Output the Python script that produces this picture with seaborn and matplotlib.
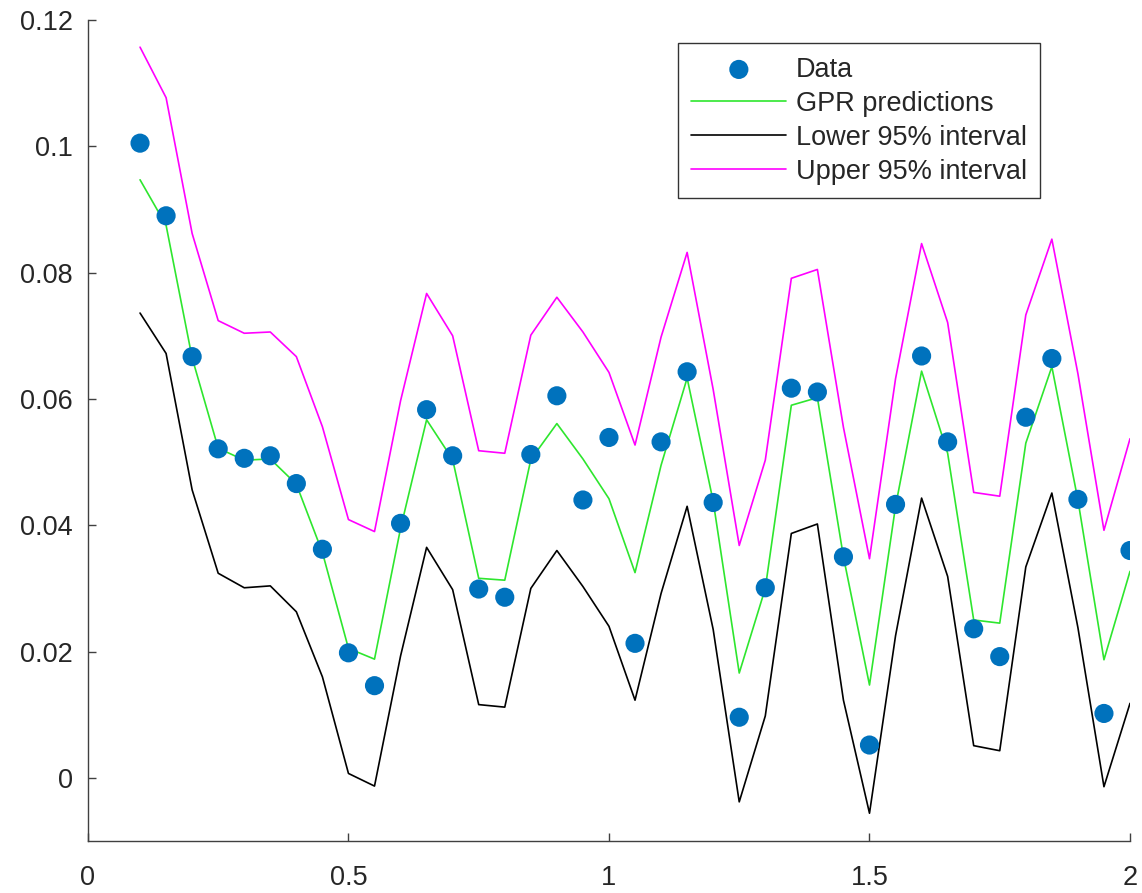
import numpy as np
import pandas as pd
import seaborn as sns
import matplotlib.pyplot as plt

x = [0.10, 0.15, 0.20, 0.25, 0.30, 0.35, 0.40, 0.45, 0.50, 0.55,
     0.60, 0.65, 0.70, 0.75, 0.80, 0.85, 0.90, 0.95, 1.00, 1.05,
     1.10, 1.15, 1.20, 1.25, 1.30, 1.35, 1.40, 1.45, 1.50, 1.55,
     1.60, 1.65, 1.70, 1.75, 1.80, 1.85, 1.90, 1.95, 2.00]

data_y = [0.1005, 0.0890, 0.0667, 0.0521, 0.0506, 0.0510, 0.0466, 0.0362, 0.0198, 0.0146,
          0.0403, 0.0583, 0.0510, 0.0299, 0.0286, 0.0512, 0.0605, 0.0440, 0.0539, 0.0213,
          0.0532, 0.0643, 0.0436, 0.0096, 0.0301, 0.0617, 0.0611, 0.0350, 0.0052, 0.0433,
          0.0668, 0.0532, 0.0236, 0.0192, 0.0571, 0.0664, 0.0441, 0.0102, 0.0360]

gpr_y = [0.0947, 0.0875, 0.0665, 0.0522, 0.0503, 0.0505, 0.0465, 0.0357, 0.0205, 0.0188,
         0.0395, 0.0567, 0.0504, 0.0316, 0.0313, 0.0504, 0.0561, 0.0505, 0.0442, 0.0325,
         0.0495, 0.0633, 0.0438, 0.0166, 0.0300, 0.0590, 0.0602, 0.0350, 0.0147, 0.0430,
         0.0644, 0.0514, 0.0250, 0.0245, 0.0530, 0.0651, 0.0440, 0.0187, 0.0327]

lower_y = [0.0736, 0.0672, 0.0456, 0.0324, 0.0301, 0.0304, 0.0263, 0.0160, 0.0007, -0.0013,
           0.0193, 0.0365, 0.0298, 0.0116, 0.0112, 0.0300, 0.0360, 0.0303, 0.0240, 0.0123,
           0.0292, 0.0430, 0.0235, -0.0038, 0.0098, 0.0387, 0.0402, 0.0123, -0.0056, 0.0225,
           0.0443, 0.0319, 0.0051, 0.0043, 0.0334, 0.0451, 0.0238, -0.0014, 0.0118]

upper_y = [0.1157, 0.1077, 0.0862, 0.0724, 0.0704, 0.0706, 0.0667, 0.0556, 0.0409, 0.0390,
           0.0597, 0.0767, 0.0700, 0.0518, 0.0514, 0.0701, 0.0761, 0.0706, 0.0642, 0.0527,
           0.0698, 0.0832, 0.0615, 0.0368, 0.0503, 0.0791, 0.0805, 0.0555, 0.0347, 0.0632,
           0.0846, 0.0721, 0.0452, 0.0446, 0.0733, 0.0853, 0.0640, 0.0392, 0.0537]

df = pd.DataFrame({'x': x, 'data': data_y, 'gpr': gpr_y,
                   'lower': lower_y, 'upper': upper_y})

sns.set_style('white')
plt.rcParams['font.family'] = ['Liberation Sans', 'DejaVu Sans']

fig = plt.figure(figsize=(11.42, 8.93), dpi=100)
ax = fig.add_axes([0.077, 0.0582, 0.9125, 0.9194])

sns.scatterplot(data=df, x='x', y='data', ax=ax, s=190, color='#0072BD',
                edgecolor='none', label='Data', zorder=3)
sns.lineplot(data=df, x='x', y='gpr', ax=ax, color='#2ee62e', lw=1.2,
             label='GPR predictions')
sns.lineplot(data=df, x='x', y='lower', ax=ax, color='black', lw=1.2,
             label='Lower 95% interval')
sns.lineplot(data=df, x='x', y='upper', ax=ax, color='#ff00ff', lw=1.2,
             label='Upper 95% interval')

ax.set_xlim(0, 2)
ax.set_ylim(-0.01, 0.12)
ax.set_xticks([0, 0.5, 1, 1.5, 2])
ax.set_xticklabels(['0', '0.5', '1', '1.5', '2'])
ax.set_yticks([0, 0.02, 0.04, 0.06, 0.08, 0.1, 0.12])
ax.set_yticklabels(['0', '0.02', '0.04', '0.06', '0.08', '0.1', '0.12'])
ax.set_xlabel('')
ax.set_ylabel('')

for side in ['top', 'right']:
    ax.spines[side].set_visible(False)
for side in ['left', 'bottom']:
    ax.spines[side].set_color('#404040')
    ax.spines[side].set_linewidth(1.0)
ax.tick_params(bottom=True, left=True, direction='in', length=6, width=1.0,
               color='#404040', labelcolor='#262626', labelsize=19.5)
ax.tick_params(axis='y', pad=11)
ax.tick_params(axis='x', pad=17)

leg = ax.legend(loc='upper right', bbox_to_anchor=(0.914, 0.972),
                borderaxespad=0, fontsize=19.5, frameon=True, fancybox=False,
                handlelength=3.5, handletextpad=0.35, labelspacing=0.3,
                borderpad=0.5)
leg.get_frame().set_edgecolor('black')
leg.get_frame().set_linewidth(1.0)
for t in leg.get_texts():
    t.set_color('#262626')

plt.savefig('out.png', dpi=100)
